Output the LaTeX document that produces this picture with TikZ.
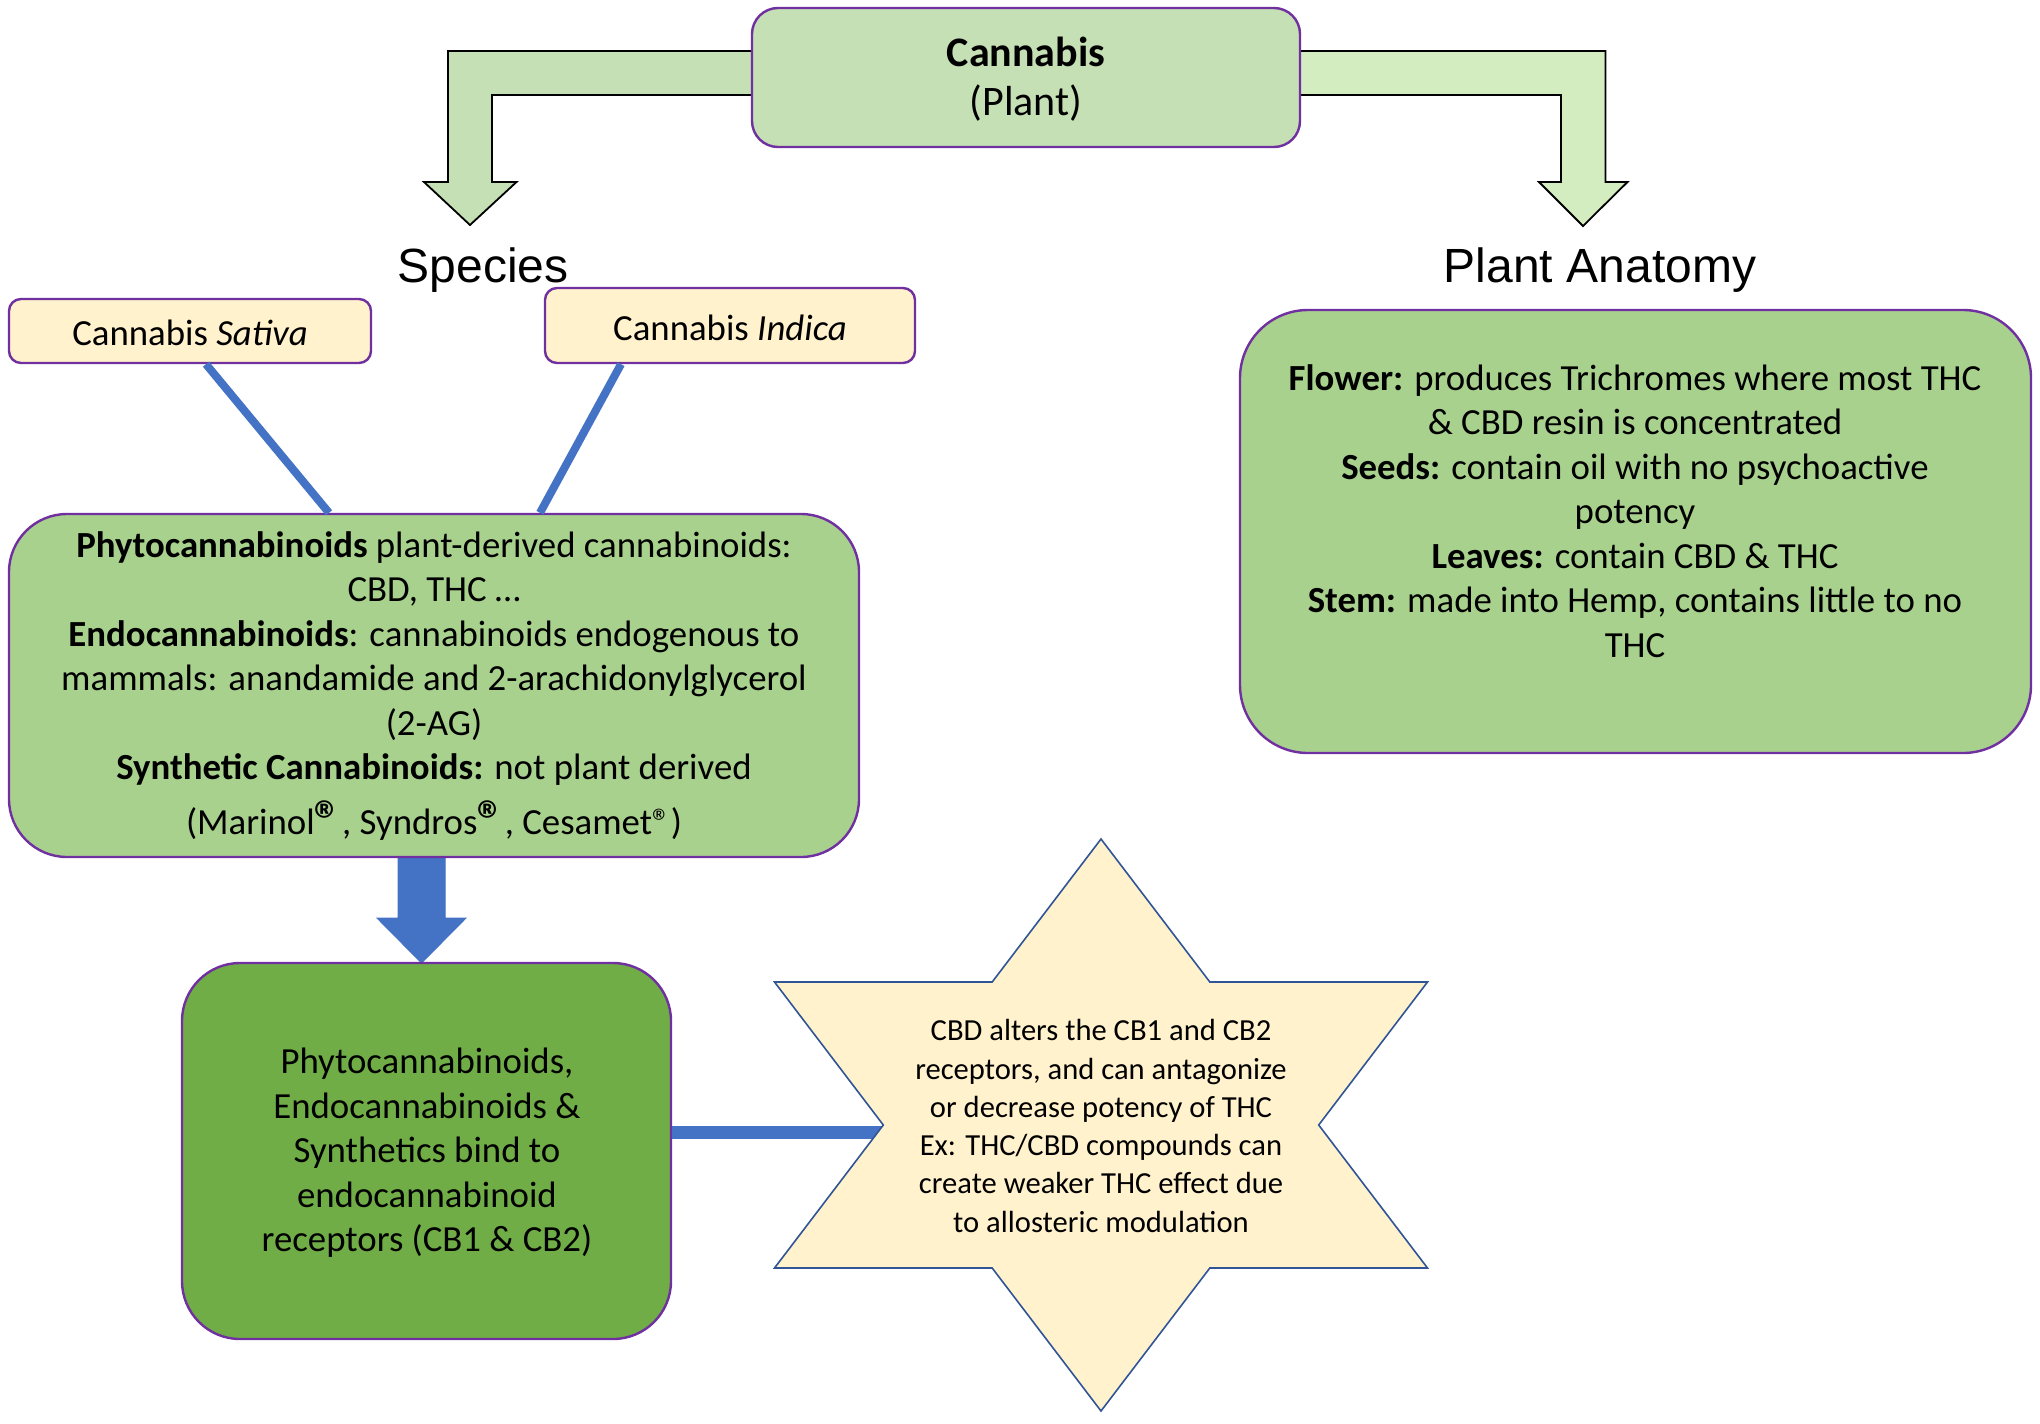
\documentclass[tikz,border=0pt]{standalone}
\usepackage{fontspec}
\setmainfont{Carlito}
\newfontfamily\arialf{Liberation Sans}
\usetikzlibrary{calc,fit}
\definecolor{lgreen}{HTML}{C5E0B4}
\definecolor{rgreen}{HTML}{D3ECC0}
\definecolor{mgreen}{HTML}{A9D18E}
\definecolor{dgreen}{HTML}{70AD47}
\definecolor{cream}{HTML}{FFF2CC}
\definecolor{purp}{HTML}{7030A0}
\definecolor{myblue}{HTML}{4472C4}
\definecolor{starblue}{HTML}{2F5597}
\newcommand{\regmark}{\raisebox{-0.12em}{\fontsize{27}{27}\selectfont\bfseries ®}}
\tikzset{
  box/.style={draw=purp, line width=1.2pt, inner sep=0pt},
  txt/.style={align=center, text=black, inner sep=0pt},
  bentarrow/.style={draw=black, line width=0.9pt, line join=miter},
  blueline/.style={draw=myblue, line width=4pt},
  bodyfont/.style={font=\fontsize{18.4}{22.25}\selectfont},
  headfont/.style={font=\arialf\fontsize{24}{28}\selectfont},
  starfont/.style={font=\fontsize{15.3}{19.15}\selectfont},
}
\begin{document}
\begin{tikzpicture}[x=0.5pt,y=-0.5pt]
\useasboundingbox[fill=white] (0,0) rectangle (2040,1424);

% bent block arrows from the Cannabis box
\draw[bentarrow, fill=lgreen] (760,51) -- (448,51) -- (448,182) -- (424,182) -- (470,225)
  -- (516.5,182) -- (492,182) -- (492,95) -- (760,95) -- cycle;
\draw[bentarrow, fill=rgreen] (1290,51) -- (1605.5,51) -- (1605.5,182) -- (1627.5,182) -- (1583,226)
  -- (1539,182) -- (1561,182) -- (1561,95) -- (1290,95) -- cycle;

% blue block arrow down
\draw[draw=myblue, fill=myblue, line width=0.5pt] (398,850) -- (398,918) -- (377,918) -- (421.5,963)
  -- (466,918) -- (445,918) -- (445,850) -- cycle;

% boxes
\node[box, fill=lgreen, rounded corners=13pt, fit={(752,8) (1300,147)}] (cannabis) {};
\node[box, fill=cream, rounded corners=6pt, fit={(9,299) (371,363)}] (sativa) {};
\node[box, fill=cream, rounded corners=6pt, fit={(545,288) (915,363)}] (indica) {};
\node[box, fill=mgreen, rounded corners=29pt, fit={(9,514) (859,857)}] (phyto) {};
\node[box, fill=mgreen, rounded corners=34pt, fit={(1240,310) (2031,753)}] (anatomybox) {};
\node[box, fill=dgreen, rounded corners=29pt, fit={(182,963) (671,1339)}] (bind) {};

% texts
\node[txt, font=\fontsize{21}{24.5}\selectfont] (cannabistext) at (1026,79) {\textbf{Cannabis}\\(Plant)};
\node[headfont] (species) at (483,270) {Species};
\node[headfont] (anatomy) at (1600,270) {Plant Anatomy};
\node[txt, bodyfont] (sativatext) at (190,333) {Cannabis \textit{Sativa}};
\node[txt, bodyfont] (indicatext) at (730,328) {Cannabis \textit{Indica}};
\node[txt, bodyfont] (phytotext) at (434,686)
  {\textbf{Phytocannabinoids} plant-derived cannabinoids:\\
   CBD, THC …\\
   \textbf{Endocannabinoids}: cannabinoids endogenous to\\
   mammals: anandamide and 2-arachidonylglycerol\\
   (2-AG)\\
   \textbf{Synthetic Cannabinoids:} not plant derived\\[5pt]
   (Marinol\regmark, Syndros\regmark, Cesamet®)};
\node[txt, bodyfont] (anatomytext) at (1635,511)
  {\textbf{Flower:} produces Trichromes where most THC\\
   \& CBD resin is concentrated\\
   \textbf{Seeds:} contain oil with no psychoactive\\
   potency\\
   \textbf{Leaves:} contain CBD \& THC\\
   \textbf{Stem:} made into Hemp, contains little to no\\
   THC};
\node[txt, bodyfont] (bindtext) at (427,1153)
  {Phytocannabinoids,\\ Endocannabinoids \&\\ Synthetics bind to\\ endocannabinoid\\ receptors (CB1 \& CB2)};

% connectors
\draw[blueline] ($(sativa.south)+(16,0)$) -- ($(phyto.north)+(-105,0)$);
\draw[blueline] ($(indica.south)+(-109,0)$) -- ($(phyto.north)+(106,0)$);

\coordinate (starL) at (890,1132);
\draw[draw=myblue, line width=6.5pt] (bind.east |- starL) -- (starL);

% six-pointed star
\begin{scope}[shift={(1101,1125)}]
\draw[draw=starblue, line width=0.8pt, fill=cream, line join=miter]
  (90:377 and 286) -- (60:217.7 and 165.1) -- (30:377 and 286) -- (0:217.7 and 165.1)
  -- (-30:377 and 286) -- (-60:217.7 and 165.1) -- (-90:377 and 286) -- (-120:217.7 and 165.1)
  -- (-150:377 and 286) -- (180:217.7 and 165.1) -- (150:377 and 286) -- (120:217.7 and 165.1) -- cycle;
\end{scope}
\node[txt, starfont] (startext) at (1101,1126)
  {CBD alters the CB1 and CB2\\ receptors, and can antagonize\\ or decrease potency of THC\\
   Ex: THC/CBD compounds can\\ create weaker THC effect due\\ to allosteric modulation};
\end{tikzpicture}
\end{document}
